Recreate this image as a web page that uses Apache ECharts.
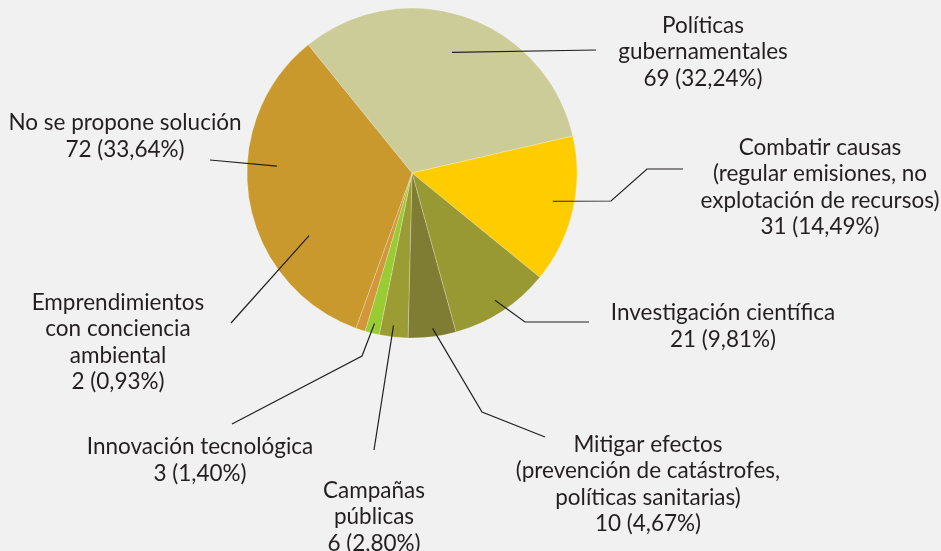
<!DOCTYPE html>
<html>
<head>
<meta charset="utf-8">
<script src="https://cdn.jsdelivr.net/npm/echarts@6/dist/echarts.min.js"></script>
<style>
html, body { margin: 0; padding: 0; background: #f1f1f1; }
#chart { width: 941px; height: 551px; }
</style>
</head>
<body>
<div id="chart"></div>
<script>
// datos
const categories = [
    'Políticas\ngubernamentales',
    'Combatir causas\n(regular emisiones, no\nexplotación de recursos)',
    'Investigación científica',
    'Mitigar efectos\n(prevención de catástrofes,\npolíticas sanitarias)',
    'Campañas\npúblicas',
    'Innovación tecnológica',
    'Emprendimientos\ncon conciencia\nambiental',
    'No se propone solución'
]
const values = [69, 31, 21, 10, 6, 3, 2, 72]
const colors = ['#cccc99', '#ffcc00', '#999933', '#7f7c33', '#9c9c35', '#99cc33', '#d1973a', '#c9992e']

const CX = 412, CY = 173, R = 165, START = 129

// posición de etiquetas y codos de las líneas guía
const layout = [
    { x: 703, y: 52, frac: 0.77, dAng: 0.7, bends: [[596, 50]] },
    { x: 820, y: 187, frac: 0.87, dAng: 1.8, bends: [[611, 201], [647, 169], [683, 169]] },
    { x: 723, y: 326, frac: 0.92, dAng: 0, bends: [[525, 322], [589, 322]] },
    { x: 648, y: 484, frac: 0.95, dAng: 0.5, bends: [[482, 412], [545, 437]] },
    { x: 374, y: 517, frac: 0.93, dAng: -0.5, bends: [[374, 450]] },
    { x: 200, y: 460, frac: 0.94, dAng: 0, bends: [[362, 356], [232, 424]] },
    { x: 118, y: 342, frac: 0.73, dAng: -40.5, bends: [[231, 323]] },
    { x: 125, y: 136, frac: 0.82, dAng: -12.5, bends: [[210, 160]] }
]

const total = values.reduce((a, b) => a + b, 0)
const midAngles = []
let acc = START
values.forEach(v => {
    const span = v / total * 360
    midAngles.push(acc - span / 2)
    acc -= span
})

const pieData = categories.map((c, i) => ({ name: c, value: values[i] }))

const chart = echarts.init(document.getElementById('chart'))
chart.setOption({
    backgroundColor: '#f1f1f1',
    animation: false,
    textStyle: { fontFamily: 'Lato' },
    series: [
        {
            // sectores
            type: 'pie',
            center: [CX, CY],
            radius: R,
            startAngle: START,
            clockwise: true,
            silent: true,
            label: { show: false },
            labelLine: { show: false },
            itemStyle: {
                borderColor: 'rgba(255,255,255,0.35)',
                borderWidth: 0.7
            },
            data: pieData.map((d, i) => ({ ...d, itemStyle: { color: colors[i] } }))
        },
        {
            // etiquetas y líneas guía por encima de los sectores
            type: 'pie',
            z: 5,
            center: [CX, CY],
            radius: R,
            startAngle: START,
            clockwise: true,
            silent: true,
            avoidLabelOverlap: false,
            itemStyle: { color: 'rgba(0,0,0,0)', borderWidth: 0 },
            label: {
                show: true,
                position: 'outside',
                color: '#231f20',
                fontSize: 22.5,
                lineHeight: 26.5,
                align: 'center',
                formatter: p => p.name + '\n' + p.value + ' (' + (p.value / total * 100).toFixed(2).replace('.', ',') + '%)'
            },
            labelLine: {
                show: true,
                lineStyle: { color: '#231f20', width: 1.2 }
            },
            labelLayout: function (params) {
                const l = layout[params.dataIndex]
                const a = (midAngles[params.dataIndex] + l.dAng) * Math.PI / 180
                const sx = CX + R * l.frac * Math.cos(a)
                const sy = CY - R * l.frac * Math.sin(a)
                return {
                    x: l.x,
                    y: l.y,
                    align: 'center',
                    verticalAlign: 'middle',
                    labelLinePoints: [[sx, sy]].concat(l.bends)
                }
            },
            data: pieData
        }
    ]
})
</script>
</body>
</html>
